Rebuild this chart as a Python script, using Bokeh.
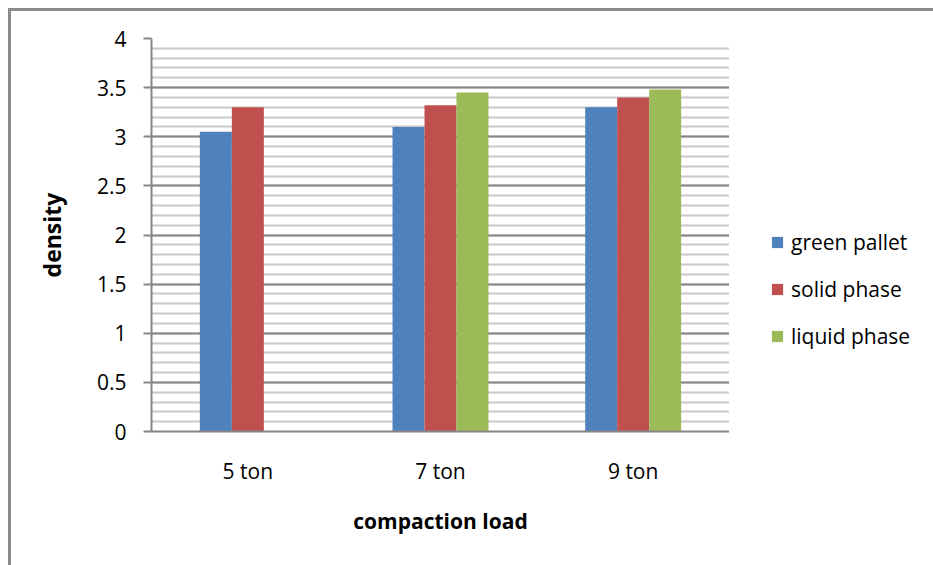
from bokeh.plotting import figure
from bokeh.layouts import row
from bokeh.models import (FactorRange, Range1d, SingleIntervalTicker, CustomJSTickFormatter,
                          Legend, LegendItem, ColumnDataSource)
from bokeh.transform import dodge
from bokeh.embed import file_html
from bokeh.resources import INLINE

# compaction loads and measured densities
loads = ["5 ton", "7 ton", "9 ton"]
green_pallet = [3.05, 3.10, 3.30]
solid_phase = [3.30, 3.32, 3.40]
liquid_phase = [float("nan"), 3.45, 3.48]

series_names = ["green pallet", "solid phase", "liquid phase"]
series_colors = ["#4F81BD", "#C0504D", "#9BBB59"]

FONT = "Open Sans"

src = ColumnDataSource(dict(load=loads, g=green_pallet, s=solid_phase, l=liquid_phase))

p = figure(width=718, height=554, output_backend="svg", toolbar_location=None,
           x_range=FactorRange(factors=loads, range_padding=0),
           y_range=Range1d(0, 4),
           min_border_left=140, min_border_right=0, min_border_top=27, min_border_bottom=134)
p.outline_line_color = None
p.background_fill_color = "white"
p.border_fill_color = "white"

bw = 0.166
for col, off, color in zip(["g", "s", "l"], [-bw, 0, bw], series_colors):
    p.vbar(x=dodge("load", off, range=p.x_range), top=col, width=bw, bottom=0,
           source=src, fill_color=color, line_color=None)

# y axis: major every 0.5, minor every 0.1
yax = p.yaxis[0]
yax.ticker = SingleIntervalTicker(interval=0.5, num_minor_ticks=5)
yax.formatter = CustomJSTickFormatter(code="return String(Math.round(tick*10)/10)")
yax.axis_line_color = "#868686"
yax.axis_line_width = 2
yax.major_tick_line_color = "#868686"
yax.major_tick_line_width = 2
yax.major_tick_out = 8
yax.major_tick_in = 0
yax.minor_tick_line_color = None
yax.major_label_text_font = FONT
yax.major_label_text_font_size = "21px"
yax.major_label_text_color = "black"
yax.major_label_standoff = 17
yax.axis_label = "density"
yax.axis_label_text_font = FONT
yax.axis_label_text_font_style = "bold"
yax.axis_label_text_font_size = "23px"
yax.axis_label_text_color = "black"
yax.axis_label_standoff = 26

xax = p.xaxis[0]
xax.axis_line_color = "#868686"
xax.axis_line_width = 2
xax.major_tick_line_color = None
xax.minor_tick_line_color = None
xax.major_label_text_font = FONT
xax.major_label_text_font_size = "21px"
xax.major_label_text_color = "black"
xax.major_label_standoff = 19
xax.axis_label = "compaction load"
xax.axis_label_text_font = FONT
xax.axis_label_text_font_style = "bold"
xax.axis_label_text_font_size = "21px"
xax.axis_label_text_color = "black"
xax.axis_label_standoff = 19

p.xgrid.grid_line_color = None
p.ygrid.grid_line_color = "#868686"
p.ygrid.grid_line_width = 2
p.ygrid.minor_grid_line_color = "#C8C8C8"
p.ygrid.minor_grid_line_width = 2

# legend panel to the right of the plot area; its key renderers are zero-height
lg = figure(width=204, height=554, output_backend="svg", toolbar_location=None,
            x_axis_type=None, y_axis_type=None,
            x_range=Range1d(0, 1), y_range=Range1d(0, 1),
            min_border_left=0, min_border_right=0, min_border_top=0, min_border_bottom=0)
lg.outline_line_color = None
lg.grid.grid_line_color = None
keys = []
for color in series_colors:
    keys.append(lg.vbar(x=[0], top=[0], bottom=[0], width=0.0, fill_color=color, line_color=None))

legend = Legend(items=[LegendItem(label=n, renderers=[r]) for n, r in zip(series_names, keys)],
                location=(41, 81), orientation="vertical",
                glyph_width=14, glyph_height=14, label_standoff=7,
                label_text_font=FONT, label_text_font_size="21px", label_text_color="black",
                spacing=19, padding=0, margin=0,
                border_line_color=None, background_fill_alpha=0)
lg.add_layout(legend, "center")

chart = row(p, lg, spacing=0)
# outer chart frame: top and left edges
chart.styles = {"margin-left": "8px", "margin-top": "8px",
                "border-left": "3px solid #8C8C8C", "border-top": "3px solid #8C8C8C"}

open("out.html", "w").write(file_html(chart, INLINE))
